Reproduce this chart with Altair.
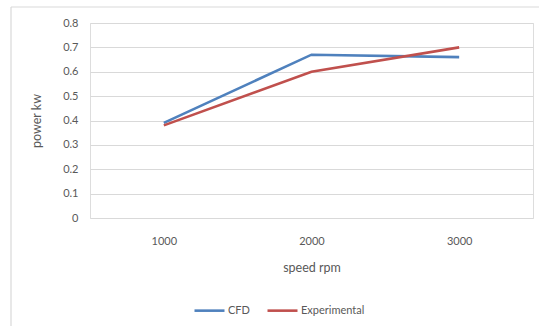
import altair as alt
import pandas as pd

# Power output at each shaft speed
speeds = ["1000", "2000", "3000"]
cfd_power = [0.39, 0.67, 0.66]
experimental_power = [0.38, 0.60, 0.70]
series_names = ["CFD", "Experimental"]
series_colors = ["#4F81BD", "#C0504D"]
y_ticks = [0, 0.1, 0.2, 0.3, 0.4, 0.5, 0.6, 0.7, 0.8]

rows = []
for name, values in zip(series_names, [cfd_power, experimental_power]):
    for s, v in zip(speeds, values):
        rows.append({"speed": s, "power": v, "series": name})
df = pd.DataFrame(rows)

FONT = "Lato"
TEXT = "#595959"
GRID = "#D9D9D9"

lines = alt.Chart(df).mark_line(strokeWidth=2.6).encode(
    x=alt.X(
        "speed:N",
        sort=speeds,
        title="speed rpm",
        scale=alt.Scale(paddingInner=0, paddingOuter=0),
        axis=alt.Axis(
            labelAngle=0, ticks=False, domain=False, grid=False,
            labelPadding=17, titlePadding=15,
            labelFont=FONT, titleFont=FONT, labelFontSize=11, titleFontSize=12.5,
            labelColor=TEXT, titleColor=TEXT, titleFontWeight="normal",
        ),
    ),
    y=alt.Y(
        "power:Q",
        title="power kw",
        scale=alt.Scale(domain=[0, 0.8], nice=False),
        axis=alt.Axis(
            values=y_ticks, format=".1~f", ticks=False, domain=False,
            gridColor=GRID, gridWidth=1.2, labelPadding=12, titlePadding=19,
            labelFont=FONT, titleFont=FONT, labelFontSize=11, titleFontSize=12.5,
            labelColor=TEXT, titleColor=TEXT, titleFontWeight="normal",
        ),
    ),
    color=alt.Color(
        "series:N",
        scale=alt.Scale(domain=series_names, range=series_colors),
        legend=alt.Legend(
            title=None, orient="none", direction="horizontal",
            legendX=103, legendY=271,
            symbolType="stroke", symbolSize=900, symbolStrokeWidth=2.6,
            labelFont=FONT, labelFontSize=11, labelColor=TEXT,
            labelOffset=2, columnPadding=12,
        ),
    ),
)

# Outer chart-area frame (top and left edges)
frame_df = pd.DataFrame({"k": [0]})
frame_top = alt.Chart(frame_df).mark_rule(color=GRID, strokeWidth=1.2).encode(
    x=alt.value(-79), x2=alt.value(452), y=alt.value(-16)
)
frame_left = alt.Chart(frame_df).mark_rule(color=GRID, strokeWidth=1.2).encode(
    x=alt.value(-79), y=alt.value(-16), y2=alt.value(310)
)

chart = alt.layer(frame_top, frame_left, lines).properties(
    width=443,
    height=195,
    autosize=alt.AutoSizeParams(type="none"),
    padding={"left": 90, "top": 23, "right": 6, "bottom": 108},
).configure_view(stroke=None).configure(background="white")

chart.save("out.html", embed_options={"renderer": "svg", "actions": False})
